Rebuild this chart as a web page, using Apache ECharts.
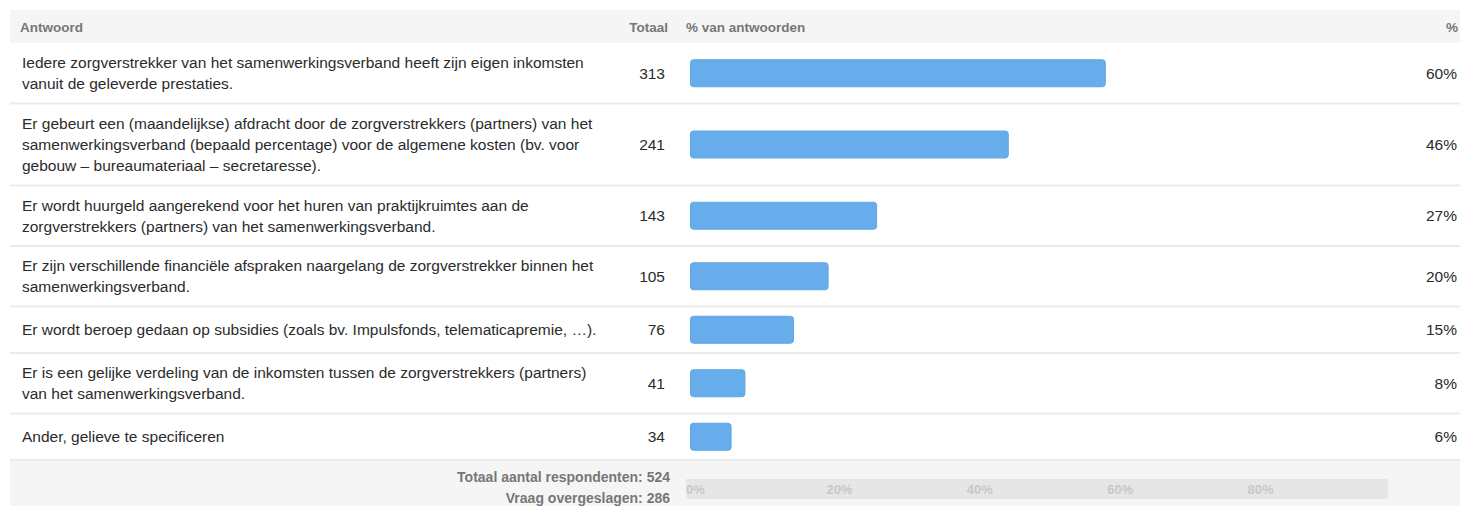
<!DOCTYPE html>
<html>
<head>
<meta charset="utf-8">
<script src="https://cdn.jsdelivr.net/npm/echarts@6/dist/echarts.min.js"></script>
<style>
  html, body { margin: 0; padding: 0; background: #ffffff; }
  #chart { width: 1460px; height: 506px; }
</style>
</head>
<body>
<div id="chart"></div>
<script>
// Survey answers (line breaks follow the table's column wrapping)
const answers = [
  'Iedere zorgverstrekker van het samenwerkingsverband heeft zijn eigen inkomsten\nvanuit de geleverde prestaties.',
  'Er gebeurt een (maandelijkse) afdracht door de zorgverstrekkers (partners) van het\nsamenwerkingsverband (bepaald percentage) voor de algemene kosten (bv. voor\ngebouw – bureaumateriaal – secretaresse).',
  'Er wordt huurgeld aangerekend voor het huren van praktijkruimtes aan de\nzorgverstrekkers (partners) van het samenwerkingsverband.',
  'Er zijn verschillende financiële afspraken naargelang de zorgverstrekker binnen het\nsamenwerkingsverband.',
  'Er wordt beroep gedaan op subsidies (zoals bv. Impulsfonds, telematicapremie, …).',
  'Er is een gelijke verdeling van de inkomsten tussen de zorgverstrekkers (partners)\nvan het samenwerkingsverband.',
  'Ander, gelieve te specificeren'
];
const counts = [313, 241, 143, 105, 76, 41, 34];
const percents = [60, 46, 27, 20, 15, 8, 6];
const axisTicks = [0, 20, 40, 60, 80];
const respondents = 524;
const skipped = 286;

const FONT = '"Liberation Sans", Arial, Helvetica, sans-serif';
const BODY_SIZE = 15.5;
const TABLE_LEFT = 10, TABLE_RIGHT = 1460;
const HEADER_TOP = 10, HEADER_H = 33;
const BAR_LEFT = 690, BAR_WIDTH = 693;
const TEXT_LEFT = 22, COUNT_RIGHT = 665, PCT_RIGHT = 1457;

// Row height grows with the number of wrapped lines of the answer text
function rowHeight(label) {
  const lines = label.split('\n').length;
  return Math.max(46.5, 21.5 * lines + 17.5);
}

const grids = [], xAxes = [], yAxes = [], series = [], graphics = [];
let y = HEADER_TOP + HEADER_H;

// header band
graphics.push({ type: 'rect', z: -10, shape: { x: TABLE_LEFT, y: HEADER_TOP, width: TABLE_RIGHT - TABLE_LEFT, height: HEADER_H }, style: { fill: '#f5f5f5' } });
const headStyle = { font: 'bold 13.5px ' + FONT, fill: '#777777', verticalAlign: 'middle' };
const hy = HEADER_TOP + HEADER_H / 2 + 0.5;
graphics.push({ type: 'text', style: Object.assign({ text: 'Antwoord', x: 20, y: hy, align: 'left' }, headStyle) });
graphics.push({ type: 'text', style: Object.assign({ text: 'Totaal', x: 668, y: hy, align: 'right' }, headStyle) });
graphics.push({ type: 'text', style: Object.assign({ text: '% van antwoorden', x: 686, y: hy, align: 'left' }, headStyle) });
graphics.push({ type: 'text', style: Object.assign({ text: '%', x: 1458, y: hy, align: 'right' }, headStyle) });

answers.forEach((label, i) => {
  const h = rowHeight(label);
  grids.push({ left: BAR_LEFT, width: BAR_WIDTH, top: y, height: h, containLabel: false });
  xAxes.push({ gridIndex: i, type: 'value', min: 0, max: 100, show: false });
  // answer text on the left
  yAxes.push({
    gridIndex: i, type: 'category', data: [label],
    axisLine: { show: false }, axisTick: { show: false }, splitLine: { show: false },
    axisLabel: { align: 'left', margin: BAR_LEFT - TEXT_LEFT, fontSize: BODY_SIZE, lineHeight: 21, color: '#2b2b2b', fontFamily: FONT }
  });
  // percentage on the right
  yAxes.push({
    gridIndex: i, type: 'category', position: 'right', data: [percents[i] + '%'],
    axisLine: { show: false }, axisTick: { show: false }, splitLine: { show: false },
    axisLabel: { align: 'right', margin: PCT_RIGHT - (BAR_LEFT + BAR_WIDTH), fontSize: BODY_SIZE, color: '#2b2b2b', fontFamily: FONT }
  });
  series.push({
    type: 'bar', xAxisIndex: i, yAxisIndex: i * 2,
    data: [percents[i]], barWidth: 28, silent: true,
    itemStyle: { color: '#67adeb', borderColor: '#5fa6e6', borderWidth: 1, borderRadius: 3 },
    label: {
      show: true, position: [COUNT_RIGHT - BAR_LEFT, 14], align: 'right', verticalAlign: 'middle',
      formatter: String(counts[i]), fontSize: BODY_SIZE, color: '#2b2b2b', fontFamily: FONT
    }
  });
  y += h;
  // row separator
  graphics.push({ type: 'line', z: -5, shape: { x1: TABLE_LEFT, y1: y, x2: TABLE_RIGHT, y2: y }, style: { stroke: '#ebebeb', lineWidth: 2 } });
});

// footer band with totals and the percentage scale
const footTop = y + 1;
graphics.push({ type: 'rect', z: -10, shape: { x: TABLE_LEFT, y: footTop, width: TABLE_RIGHT - TABLE_LEFT, height: 506 - footTop }, style: { fill: '#f5f5f5' } });
const footStyle = { font: 'bold 14px ' + FONT, fill: '#777777', verticalAlign: 'middle', align: 'right' };
graphics.push({ type: 'text', style: Object.assign({ text: 'Totaal aantal respondenten: ' + respondents, x: 670, y: footTop + 16 }, footStyle) });
graphics.push({ type: 'text', style: Object.assign({ text: 'Vraag overgeslagen: ' + skipped, x: 670, y: footTop + 37 }, footStyle) });

const fi = answers.length;
grids.push({ left: 686, width: 702, top: footTop + 18, height: 20, show: true, backgroundColor: '#e6e6e6', borderWidth: 0 });
xAxes.push({
  gridIndex: fi, type: 'value', min: 0, max: 100,
  axisLine: { show: false }, axisTick: { show: false }, splitLine: { show: false },
  axisLabel: {
    inside: true, customValues: axisTicks, align: 'left', verticalAlign: 'middle', margin: 10,
    formatter: '{value}%', color: '#c8c8c8', fontWeight: 'bold', fontSize: 13, fontFamily: FONT
  }
});
yAxes.push({ gridIndex: fi, type: 'value', show: false, min: 0, max: 1 });

const chart = echarts.init(document.getElementById('chart'), null, { renderer: 'svg' });
chart.setOption({
  animation: false,
  textStyle: { fontFamily: FONT },
  grid: grids,
  xAxis: xAxes,
  yAxis: yAxes,
  series: series,
  graphic: graphics
});
</script>
</body>
</html>
